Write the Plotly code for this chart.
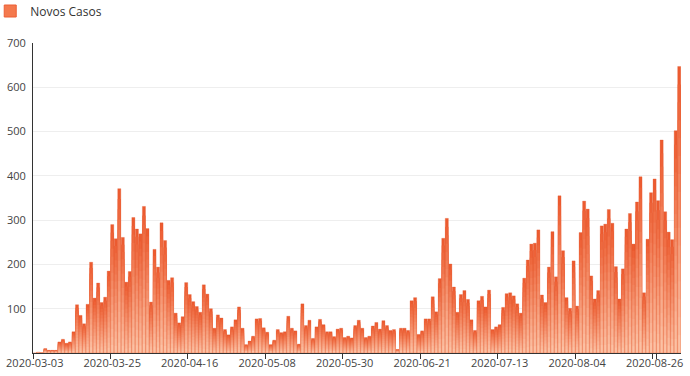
import plotly.graph_objects as go
import pandas as pd

# Daily new cases, 2020-03-03 .. 2020-09-02 (184 days)
values_mar = [0, 2, 1, 10, 6, 6, 6, 25, 31, 22, 25, 48, 109, 85, 66, 110, 205, 124, 158, 114, 126, 185, 290, 258, 371, 261]
values_apr = [160, 184, 306, 280, 269, 331, 281, 115, 234, 194, 294, 254, 164, 170, 90, 68, 82, 159, 132, 116, 105, 92, 154, 133, 100, 56, 86]
values_may = [79, 53, 41, 59, 75, 104, 56, 19, 27, 38, 77, 78, 57, 47, 19, 29, 53, 46, 48, 83, 56, 50, 20, 111, 62, 74]
values_jun = [33, 59, 76, 64, 48, 48, 37, 54, 56, 35, 38, 34, 62, 74, 56, 35, 38, 61, 69, 54, 73, 62, 51, 53, 8, 56, 56, 51]
values_jul = [118, 125, 42, 50, 77, 77, 127, 93, 168, 259, 304, 201, 149, 92, 132, 141, 121, 75, 51, 118, 128, 104, 142, 53, 59, 64, 103, 134, 136]
values_aug1 = [129, 111, 90, 169, 210, 246, 248, 278, 131, 114, 194, 274, 172, 355, 231, 125, 101, 208, 106, 272, 343, 325, 174, 122]
values_aug2 = [141, 287, 291, 324, 293, 195, 122, 190, 280, 315, 246, 341, 398, 136, 257, 362, 393, 344, 481, 319, 273, 256, 502, 647]

values = values_mar + values_apr + values_may + values_jun + values_jul + values_aug1 + values_aug2
dates = [d.strftime("%Y-%m-%d") for d in pd.date_range("2020-03-03", periods=len(values), freq="D")]

tick_labels = ["2020-03-03", "2020-03-25", "2020-04-16", "2020-05-08", "2020-05-30",
               "2020-06-21", "2020-07-13", "2020-08-04", "2020-08-26"]
y_ticks = [100, 200, 300, 400, 500, 600, 700]
series_name = "Novos Casos"

top_rgb = (236, 88, 44)
bottom_rgb = (252, 196, 168)
N = 16

fig = go.Figure()
for k in range(N):
    t = (k + 0.5) / N
    c = tuple(round(top_rgb[j] + (bottom_rgb[j] - top_rgb[j]) * t) for j in range(3))
    frac = (N - k) / N
    fig.add_trace(go.Bar(
        x=dates, y=[v * frac for v in values],
        marker=dict(color="rgb(%d,%d,%d)" % c, line=dict(width=0)),
        name=series_name, showlegend=False, hoverinfo="skip",
    ))
# outline trace (carries the hover)
fig.add_trace(go.Bar(
    x=dates, y=values, name=series_name, showlegend=False,
    marker=dict(color="rgba(0,0,0,0)", line=dict(color="rgba(226,84,40,0.55)", width=0.5)),
))
# legend entry
fig.add_trace(go.Bar(
    x=[dates[0]], y=[None], name=series_name, showlegend=True, hoverinfo="skip",
    marker=dict(color="#f4794d", line=dict(color="#ec5f35", width=1)),
))

fig.update_layout(
    width=690, height=376,
    margin=dict(l=33, r=9, t=43, b=23, autoexpand=False),
    paper_bgcolor="white", plot_bgcolor="white",
    barmode="overlay", bargap=0.12,
    font=dict(family="Open Sans", size=11, color="#444"),
    showlegend=True,
    legend=dict(x=-0.066, y=1.15, xanchor="left", yanchor="top", orientation="h",
                font=dict(size=12, color="#333"), bgcolor="rgba(0,0,0,0)",
                itemwidth=30),
)
fig.update_xaxes(
    type="category", tickmode="array", tickvals=tick_labels, ticktext=tick_labels,
    tickson="boundaries", ticks="outside", ticklen=5, tickcolor="#333",
    showline=True, linecolor="#333", linewidth=1, showgrid=False,
    tickangle=0, automargin=False, range=[-0.5, len(values) - 0.5],
    tickfont=dict(size=11, color="#444"),
)
fig.update_yaxes(
    range=[0, 700], tickvals=y_ticks, showgrid=True, gridcolor="#eeeeee",
    showline=True, linecolor="#333", linewidth=1, zeroline=False,
    automargin=False, ticklabelstandoff=4,
    tickfont=dict(size=11, color="#444"), ticks="",
)
fig.write_html("out.html")
